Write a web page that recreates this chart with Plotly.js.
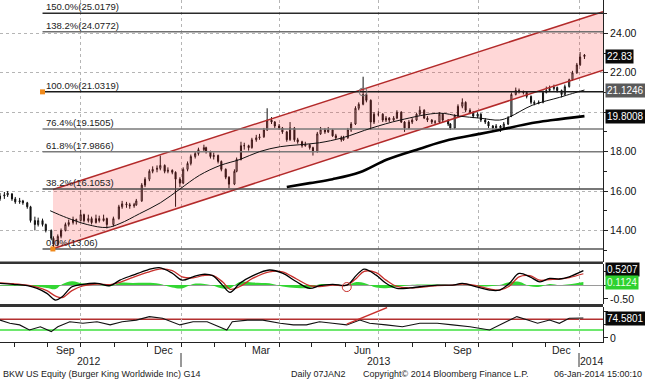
<!DOCTYPE html>
<html>
<head>
<meta charset="utf-8">
<script src="https://cdn.plot.ly/plotly-3.0.1.min.js"></script>
<style>html,body{margin:0;padding:0;background:#fff;}#chart{width:645px;height:380px;}</style>
</head>
<body>
<div id="chart"></div>
<script>
// ---------- price candles ----------
const priceDates = [
'2012-07-19','2012-07-23','2012-07-26','2012-07-30','2012-08-02','2012-08-06','2012-08-09','2012-08-13','2012-08-16','2012-08-20',
'2012-08-23','2012-08-27','2012-08-30','2012-09-04','2012-09-06','2012-09-10','2012-09-13','2012-09-17','2012-09-20','2012-09-24',
'2012-09-27','2012-10-01','2012-10-04','2012-10-08','2012-10-11','2012-10-15','2012-10-18','2012-10-22','2012-10-25','2012-10-31',
'2012-11-05','2012-11-08','2012-11-12','2012-11-15','2012-11-19','2012-11-21','2012-11-26','2012-11-29','2012-12-03','2012-12-06',
'2012-12-10','2012-12-13','2012-12-17','2012-12-20','2012-12-24','2012-12-27','2012-12-31','2013-01-03','2013-01-07','2013-01-10',
'2013-01-14','2013-01-17','2013-01-22','2013-01-24','2013-01-28','2013-01-31','2013-02-04','2013-02-07','2013-02-11','2013-02-14',
'2013-02-19','2013-02-21','2013-02-25','2013-02-28','2013-03-04','2013-03-07','2013-03-11','2013-03-14','2013-03-18','2013-03-21',
'2013-03-25','2013-03-28','2013-04-01','2013-04-04','2013-04-08','2013-04-11','2013-04-15','2013-04-18','2013-04-22','2013-04-25',
'2013-04-29','2013-05-02','2013-05-06','2013-05-09','2013-05-13','2013-05-16','2013-05-20','2013-05-23','2013-05-28','2013-05-30',
'2013-06-03','2013-06-06','2013-06-10','2013-06-13','2013-06-17','2013-06-20','2013-06-24','2013-06-27','2013-07-01','2013-07-05',
'2013-07-08','2013-07-11','2013-07-15','2013-07-18','2013-07-22','2013-07-25','2013-07-29','2013-08-01','2013-08-05','2013-08-08',
'2013-08-12','2013-08-15','2013-08-19','2013-08-22','2013-08-26','2013-08-29','2013-09-03','2013-09-05','2013-09-09','2013-09-12',
'2013-09-16','2013-09-19','2013-09-23','2013-09-26','2013-09-30','2013-10-03','2013-10-07','2013-10-10','2013-10-14','2013-10-17',
'2013-10-21','2013-10-24','2013-10-28','2013-10-31','2013-11-04','2013-11-07','2013-11-11','2013-11-14','2013-11-18','2013-11-21',
'2013-11-25','2013-11-29','2013-12-02','2013-12-05','2013-12-09','2013-12-12','2013-12-16','2013-12-19','2013-12-23','2013-12-26',
'2013-12-30','2014-01-02','2014-01-06'];
const priceOpen = [
15.6,15.75,15.8,15.85,15.6,15.45,15.5,15.4,15.2,14.5,
14.3,14.5,14.3,14.0,13.6,13.3,13.7,14.0,14.3,14.4,
14.55,14.5,14.8,14.5,14.6,14.4,14.6,14.5,14.6,14.3,
14.6,15.2,15.35,15.3,15.25,15.3,15.5,16.3,16.6,17.0,
17.1,17.15,17.3,17.0,17.05,16.95,16.6,16.4,17.1,17.4,
17.75,17.9,18.1,18.2,18.0,17.75,17.8,17.5,17.1,16.7,
16.35,17.0,17.6,18.3,18.3,18.2,18.6,18.7,18.75,19.1,
19.6,19.5,19.3,19.2,19.0,18.6,19.2,18.6,18.5,18.3,
18.35,18.2,18.0,18.9,19.1,19.0,19.1,18.8,18.7,18.6,
18.7,19.1,19.4,20.2,20.4,20.9,20.6,19.5,19.9,19.9,
19.6,19.7,19.6,19.7,20.0,19.5,19.2,19.5,19.6,19.9,
20.1,19.7,19.6,19.5,19.5,19.9,19.6,19.4,19.2,19.8,
20.3,20.5,20.1,20.0,19.8,19.9,19.6,19.5,19.3,19.2,
19.3,19.2,19.4,19.8,20.9,21.1,21.05,21.0,20.8,20.5,
20.45,20.5,21.0,21.1,21.2,21.25,21.1,20.9,21.3,21.65,
22.0,22.4,22.9];
const priceHigh = [
15.9,15.95,16.0,15.9,15.7,15.65,15.55,15.45,15.25,14.7,
14.65,14.6,14.35,14.05,13.7,13.8,14.1,14.4,14.55,14.7,
14.6,15.05,14.85,14.8,14.7,14.8,14.75,14.8,14.65,14.7,
15.3,15.5,15.45,15.4,15.4,15.6,16.4,16.7,17.1,17.25,
17.3,17.8,17.35,17.2,17.1,17.0,16.7,17.2,17.5,17.85,
18.0,18.2,18.35,18.25,18.05,17.95,17.85,17.55,17.15,16.75,
17.1,17.7,18.5,18.45,18.35,18.7,18.85,18.9,19.2,20.2,
19.75,19.55,19.4,19.25,19.05,19.5,19.25,18.7,18.55,18.5,
18.4,18.25,19.0,19.25,19.2,19.25,19.15,18.9,18.8,18.8,
19.2,19.5,20.3,20.5,21.8,21.0,20.65,20.0,20.05,19.95,
19.8,19.75,19.8,20.1,20.05,19.55,19.6,19.7,19.95,20.3,
20.15,19.8,19.65,19.6,20.0,19.95,19.65,19.45,19.9,20.4,
20.7,20.55,20.2,20.05,20.0,19.95,19.7,19.55,19.35,19.4,
19.35,19.5,19.8,21.0,21.25,21.2,21.1,21.05,20.85,20.6,
20.6,21.1,21.3,21.35,21.4,21.3,21.15,21.4,21.7,22.1,
22.5,23.05,22.95];
const priceLow = [
15.5,15.6,15.7,15.5,15.35,15.35,15.3,15.1,14.4,14.0,
14.2,14.2,13.9,13.5,13.06,13.2,13.6,13.95,14.2,14.3,
14.3,14.45,14.4,14.4,14.3,14.35,14.4,14.45,14.1,14.2,
14.55,15.1,15.15,15.1,15.15,15.25,15.45,16.2,16.5,16.9,
16.95,17.05,16.9,16.9,16.85,15.2,16.2,16.35,17.0,17.3,
17.65,17.8,18.0,17.9,17.65,17.6,17.4,17.0,16.6,16.15,
16.3,16.95,17.55,18.1,18.05,18.15,18.5,18.6,18.7,19.05,
19.4,19.2,19.1,18.9,18.5,18.55,18.5,18.4,18.2,18.25,
18.1,17.8,17.95,18.85,18.9,18.95,18.75,18.6,18.5,18.55,
18.65,19.0,19.35,20.1,20.35,20.5,19.1,19.4,19.8,19.5,
19.5,19.5,19.55,19.65,19.45,19.0,19.15,19.4,19.55,19.85,
19.65,19.5,19.4,19.4,19.45,19.5,19.3,19.1,19.15,19.75,
20.2,20.0,19.9,19.7,19.7,19.5,19.4,19.2,19.1,19.1,
19.0,19.15,19.35,19.75,20.85,20.95,20.9,20.7,20.4,20.35,
20.4,20.45,20.95,21.05,21.1,21.0,20.75,20.85,21.25,21.6,
21.95,22.35,22.7];
const priceClose = [
15.75,15.8,15.9,15.6,15.45,15.5,15.4,15.2,14.5,14.3,
14.5,14.3,14.0,13.6,13.3,13.7,14.0,14.3,14.4,14.55,
14.5,14.8,14.5,14.6,14.4,14.6,14.5,14.6,14.3,14.6,
15.2,15.35,15.3,15.25,15.3,15.5,16.3,16.6,17.0,17.1,
17.15,17.3,17.0,17.05,16.95,16.6,16.4,17.1,17.4,17.75,
17.9,18.1,18.2,18.0,17.75,17.8,17.5,17.1,16.7,16.35,
17.0,17.6,18.3,18.3,18.2,18.6,18.7,18.75,19.1,19.6,
19.5,19.3,19.2,19.0,18.6,19.2,18.6,18.5,18.3,18.35,
18.2,18.0,18.9,19.1,19.0,19.1,18.8,18.7,18.6,18.7,
19.1,19.4,20.2,20.4,20.9,20.6,19.5,19.9,19.9,19.6,
19.7,19.6,19.7,20.0,19.5,19.2,19.5,19.6,19.9,20.1,
19.7,19.6,19.5,19.5,19.9,19.6,19.4,19.2,19.8,20.3,
20.5,20.1,20.0,19.8,19.9,19.6,19.5,19.3,19.2,19.3,
19.2,19.4,19.7,20.9,21.1,21.05,21.0,20.8,20.5,20.45,
20.5,21.0,21.1,21.2,21.25,21.1,20.9,21.3,21.65,22.0,
22.4,22.8,22.83];

// ---------- moving averages ----------
const ma50Dates = ['2012-09-03','2012-09-18','2012-10-07','2012-10-25','2012-11-06','2012-11-24','2012-12-13','2012-12-31','2013-01-18','2013-02-06','2013-02-24','2013-03-14','2013-04-02','2013-04-20','2013-05-08','2013-05-29','2013-06-25','2013-07-21','2013-08-26','2013-09-13','2013-10-02','2013-10-20','2013-10-29','2013-11-19','2013-12-14','2013-12-26','2014-01-06'];
const ma50Values = [15.0,14.65,14.3,14.15,14.35,14.85,15.4,16.1,16.8,17.3,17.6,18.0,18.25,18.35,18.45,18.7,19.2,19.6,19.95,19.8,19.7,19.6,19.75,20.35,20.75,20.95,21.1246];
const ma200Dates = ['2013-04-08','2013-04-29','2013-05-20','2013-06-14','2013-07-09','2013-08-08','2013-09-04','2013-10-02','2013-10-20','2013-11-19','2013-12-08','2014-01-06'];
const ma200Values = [16.2,16.4,16.6,16.95,17.6,18.15,18.6,18.9,19.1,19.45,19.6,19.8008];

// ---------- trend channel ----------
const channelDates = ['2012-09-05 14:00','2014-01-23'];
const channelUpper = [16.08, 25.10];
const channelLower = [13.07, 22.13];

// ---------- Fibonacci levels ----------
const fibPct = ['150.0%','138.2%','100.0%','76.4%','61.8%','38.2%','0.0%'];
const fibText = ['25.0179','24.0772','21.0319','19.1505','17.9866','16.1053','13.06'];
const fibLevels = [25.0179,24.0772,21.0319,19.1505,17.9866,16.1053,13.06];
const fibColors = ['#2a2a2a','#707070','#1a1a1a','#7a7a7a','#7a7a7a','#4a4a4a','#555555'];
const fibDates = ['2012-08-27','2014-01-23'];
const fibAnchorDates = ['2012-08-27','2012-09-05 12:00'];
const fibAnchorValues = [21.0319, 13.06];

// ---------- MACD ----------
const macdDates = ['2012-07-19','2012-07-31','2012-08-13','2012-08-22','2012-08-31','2012-09-08','2012-09-14','2012-09-23','2012-10-03','2012-10-16','2012-10-28','2012-11-06','2012-11-18','2012-12-01','2012-12-12','2012-12-24','2013-01-02','2013-01-12','2013-01-21','2013-01-30','2013-02-08','2013-02-15','2013-02-24','2013-03-08','2013-03-23','2013-04-04','2013-04-17','2013-04-29','2013-05-08','2013-05-20','2013-06-02','2013-06-11','2013-06-18','2013-06-29','2013-07-08','2013-07-18','2013-07-30','2013-08-08','2013-08-24','2013-09-07','2013-09-16','2013-09-29','2013-10-11','2013-10-20','2013-10-29','2013-11-07','2013-11-17','2013-11-26','2013-12-05','2013-12-14','2013-12-23','2014-01-05'];
const macdLine = [0.065,0.03,-0.02,-0.12,-0.30,-0.54,-0.42,-0.06,0.03,0.065,-0.02,0.18,0.36,0.545,0.63,0.43,0.18,0.30,0.39,0.34,0.0,-0.26,0.065,0.34,0.545,0.43,0.12,-0.12,-0.02,0.03,0.0,0.36,0.58,0.36,0.065,-0.12,-0.10,-0.06,0.0,0.0,0.06,-0.06,-0.18,-0.18,0.06,0.42,0.30,0.12,0.24,0.22,0.30,0.5207];
const macdSignal = [0.08,0.05,0.0,-0.07,-0.20,-0.40,-0.45,-0.20,-0.03,0.04,0.02,0.10,0.28,0.46,0.58,0.52,0.30,0.26,0.34,0.35,0.12,-0.15,-0.05,0.25,0.48,0.48,0.22,-0.02,-0.05,0.0,0.0,0.25,0.50,0.45,0.18,-0.05,-0.10,-0.08,-0.02,0.0,0.04,-0.02,-0.14,-0.18,-0.04,0.30,0.34,0.18,0.20,0.22,0.27,0.41];
const macdHist = [-0.015,-0.02,-0.02,-0.05,-0.10,-0.14,0.03,0.14,0.06,0.025,-0.04,0.08,0.08,0.085,0.05,-0.09,-0.12,0.04,0.05,-0.01,-0.12,-0.11,0.115,0.09,0.065,-0.05,-0.10,-0.10,0.03,0.03,0.0,0.11,0.08,-0.09,-0.115,-0.07,0.0,0.02,0.02,0.0,0.02,-0.04,-0.04,0.0,0.10,0.12,-0.04,-0.06,0.04,0.0,0.03,0.1124];

// ---------- RSI ----------
const rsiDates = ['2012-07-19','2012-07-28','2012-08-06','2012-08-15','2012-08-25','2012-09-04','2012-09-10','2012-09-21','2012-10-03','2012-10-16','2012-10-28','2012-11-08','2012-11-21','2012-12-03','2012-12-15','2012-12-31','2013-01-12','2013-01-25','2013-02-12','2013-02-17','2013-03-03','2013-03-17','2013-04-02','2013-04-14','2013-04-26','2013-05-08','2013-05-20','2013-06-02','2013-06-14','2013-06-23','2013-07-08','2013-07-23','2013-08-08','2013-08-24','2013-09-07','2013-09-23','2013-10-11','2013-10-27','2013-11-05','2013-11-15','2013-11-24','2013-12-05','2013-12-14','2013-12-23','2014-01-05'];
const rsiValues = [67,55,49,30,42,24,42,61,55,61,49,61,67,80,74,49,61,61,30,61,67,67,55,49,49,61,55,49,67,55,49,42,55,55,49,42,30,61,80,67,55,67,55,74,74.5801];
const rsiBands = [70, 30];
const rsiTrendDates = ['2013-06-02','2013-07-09'];
const rsiTrendValues = [52, 114];

// ---------- axis labels / texts ----------
const monthLabels = ['Sep','Dec','Mar','Jun','Sep','Dec'];
const monthLabelDates = ['2012-09-17','2012-12-16','2013-03-16','2013-06-16','2013-09-16','2013-12-16'];
const yearLabels = ['2012','2013','2014'];
const yearLabelDates = ['2012-10-09','2013-07-02','2014-01-13'];
const yearBreaks = ['2013-01-01','2014-01-01'];
const gridDates = ['2012-10-01','2013-01-01','2013-04-01','2013-07-01','2013-10-01','2014-01-01'];
const priceTicks = [14,16,18,20,22,24];
const priceTickText = ['14.00','16.00','18.00','','22.00','24.00'];
const footerTexts = ['BKW US Equity (Burger King Worldwide Inc) G14','Daily 07JAN2','Copyright\u00a9 2014 Bloomberg Finance L.P.','06-Jan-2014 15:00:10'];
const footerPx = [2, 290, 362, 643];
const footerAnchor = ['left','left','left','right'];

// ---------- build ----------
const FONT = 'Liberation Sans, Arial, sans-serif';
const H = 380, PW = 603;
const py = p => 1 - p / H;

const traces = [];
traces.push({type:'scatter', mode:'lines', x:channelDates, y:channelLower, xaxis:'x', yaxis:'y',
  line:{color:'#b32a2a', width:1.5}, hoverinfo:'skip'});
traces.push({type:'scatter', mode:'lines', x:channelDates, y:channelUpper, xaxis:'x', yaxis:'y',
  fill:'tonexty', fillcolor:'rgba(255,40,40,0.19)', line:{color:'#b32a2a', width:1.5}, hoverinfo:'skip'});
fibLevels.forEach((v,i) => traces.push({type:'scatter', mode:'lines', x:fibDates, y:[v,v], xaxis:'x', yaxis:'y',
  line:{color:fibColors[i], width:1.5}, hoverinfo:'skip'}));
traces.push({type:'scatter', mode:'lines', x:ma200Dates, y:ma200Values, line:{color:'#000', width:2.6, shape:'spline'}, hoverinfo:'skip'});
traces.push({type:'scatter', mode:'lines', x:ma50Dates, y:ma50Values, line:{color:'#111', width:1, shape:'spline'}, hoverinfo:'skip'});
traces.push({type:'candlestick', x:priceDates, open:priceOpen, high:priceHigh, low:priceLow, close:priceClose,
  xaxis:'x', yaxis:'y', whiskerwidth:0,
  increasing:{line:{color:'#111', width:1}, fillcolor:'#ffffff'},
  decreasing:{line:{color:'#111', width:1}, fillcolor:'#111111'}, hoverinfo:'skip'});
traces.push({type:'scatter', mode:'markers', x:fibAnchorDates, y:fibAnchorValues,
  marker:{symbol:'square', size:5, color:'#f08a1c', line:{width:0}}, hoverinfo:'skip'});
traces.push({type:'scatter', mode:'markers', x:['2013-06-17'], y:[21.03],
  marker:{symbol:'circle-open', size:8, color:'#777', line:{width:1}}, hoverinfo:'skip'});
// MACD
traces.push({type:'scatter', mode:'lines', x:macdDates, y:macdHist, xaxis:'x', yaxis:'y2', fill:'tozeroy',
  fillcolor:'#33d633', line:{width:0, color:'#33d633', shape:'spline'}, hoverinfo:'skip'});
traces.push({type:'scatter', mode:'lines', x:macdDates, y:macdSignal, xaxis:'x', yaxis:'y2',
  line:{color:'#c8302c', width:1.3, shape:'spline'}, hoverinfo:'skip'});
traces.push({type:'scatter', mode:'lines', x:macdDates, y:macdLine, xaxis:'x', yaxis:'y2',
  line:{color:'#000', width:1.3, shape:'spline'}, hoverinfo:'skip'});
traces.push({type:'scatter', mode:'markers', x:['2013-06-02'], y:[-0.07], xaxis:'x', yaxis:'y2',
  marker:{symbol:'circle-open', size:9, color:'#c8302c', line:{width:1}}, hoverinfo:'skip'});
// RSI
traces.push({type:'scatter', mode:'lines', x:rsiDates, y:rsiValues, xaxis:'x', yaxis:'y3',
  line:{color:'#111', width:1.1}, hoverinfo:'skip'});
traces.push({type:'scatter', mode:'lines', x:rsiTrendDates, y:rsiTrendValues, xaxis:'x', yaxis:'y3',
  line:{color:'#c8302c', width:1.4}, hoverinfo:'skip'});

const shapes = [];
shapes.push({type:'line', xref:'paper', x0:0, x1:1, yref:'y3', y0:rsiBands[0], y1:rsiBands[0], line:{color:'#b33030', width:1.5}, layer:'below'});
shapes.push({type:'line', xref:'paper', x0:0, x1:1, yref:'y3', y0:rsiBands[1], y1:rsiBands[1], line:{color:'#3ee03e', width:1.5}, layer:'below'});
shapes.push({type:'rect', xref:'paper', x0:0, x1:1, yref:'paper', y0:py(264), y1:py(261.5), fillcolor:'#333', line:{width:0}});
shapes.push({type:'rect', xref:'paper', x0:0, x1:1, yref:'paper', y0:py(307), y1:py(304), fillcolor:'#333', line:{width:0}});
yearBreaks.forEach(d => shapes.push({type:'line', xref:'x', x0:d, x1:d, yref:'paper', y0:py(367), y1:py(353), line:{color:'#333', width:1}}));

const ann = [];
fibLevels.forEach((v,i) => ann.push({xref:'x', yref:'y', x:'2012-08-29', y:v, text:fibPct[i]+'('+fibText[i]+')',
  showarrow:false, xanchor:'left', yanchor:'bottom', borderpad:0, yshift:0, font:{family:FONT, size:9.5, color:'#222'}}));
function box(yref, y, text, bg, fc, ys){
  return {xref:'paper', x:1, xanchor:'left', xshift:2, yshift:ys||0, yref:yref, y:y, yanchor:'middle', text:text, showarrow:false,
    bgcolor:bg, borderpad:1, font:{family:FONT, size:10, color:fc||'#fff'}};
}
ann.push(box('y', 22.83, '22.83', '#0a0a0a'));
ann.push(box('y', 21.1246, '21.1246', '#5a5a5a'));
ann.push(box('y', 19.8008, '19.8008', '#0a0a0a'));
ann.push(box('y2', 0.5207, '0.5207', '#0a0a0a', '#fff', 1));
ann.push(box('y2', 0.1124, '0.1124', '#2fd12f', '#eaffea', -1));
ann.push(box('y3', 74.5801, '74.5801', '#0a0a0a'));
monthLabels.forEach((m,i) => ann.push({xref:'x', yref:'paper', x:monthLabelDates[i], y:py(350), text:m, showarrow:false,
  xanchor:'center', yanchor:'middle', borderpad:0, font:{family:FONT, size:10.5, color:'#222'}}));
yearLabels.forEach((m,i) => ann.push({xref:'x', yref:'paper', x:yearLabelDates[i], y:py(361), text:m, showarrow:false,
  xanchor:'center', yanchor:'middle', borderpad:0, font:{family:FONT, size:10.5, color:'#222'}}));
footerTexts.forEach((t,i) => ann.push({xref:'paper', yref:'paper', x:footerPx[i]/PW, y:py(373.5), text:t, showarrow:false,
  xanchor:footerAnchor[i], yanchor:'middle', borderpad:0, font:{family:FONT, size:9, color:'#222'}}));

const gridStyle = {showgrid:true, gridcolor:'#b5b5b5', griddash:'dot', gridwidth:1};
const layout = {
  width:645, height:380, margin:{l:0, r:42, t:0, b:0},
  paper_bgcolor:'#fff', plot_bgcolor:'#fff', showlegend:false,
  font:{family:FONT, size:10, color:'#222'},
  xaxis:Object.assign({type:'date', range:['2012-07-19','2014-01-23'], anchor:'y3', domain:[0,1],
    tickmode:'array', tickvals:gridDates, showticklabels:false, ticks:'outside', ticklen:4, tickcolor:'#222',
    minor:{tickmode:'linear', tick0:'2012-08-01', dtick:'M1', ticks:'outside', ticklen:4, tickcolor:'#222', showgrid:false},
    showline:true, linecolor:'#222', linewidth:1, zeroline:false, rangeslider:{visible:false}, fixedrange:true}, gridStyle),
  yaxis:Object.assign({domain:[py(261.5), 1], range:[12.424, 25.693], side:'right', anchor:'x',
    tickmode:'array', tickvals:priceTicks, ticktext:priceTickText, ticks:'outside', ticklen:4, tickcolor:'#222',
    minor:{tickmode:'linear', tick0:13, dtick:1, ticks:'outside', ticklen:3, tickcolor:'#222', showgrid:false},
    showline:true, linecolor:'#222', linewidth:1, zeroline:false, tickfont:{family:FONT, size:10.5, color:'#111'}}, gridStyle),
  yaxis2:{domain:[py(304), py(264)], range:[-0.682, 0.762], side:'right', anchor:'x',
    tickmode:'array', tickvals:[-0.5,0,0.5], ticktext:['-0.50','',''], ticks:'outside', ticklen:4, tickcolor:'#222',
    showline:true, linecolor:'#222', linewidth:1, showgrid:false, zeroline:true, zerolinecolor:'#9a9a9a', zerolinewidth:1,
    tickfont:{family:FONT, size:10.5, color:'#111'}},
  yaxis3:{domain:[py(342), py(307)], range:[-15, 116], side:'right', anchor:'x',
    tickmode:'array', tickvals:[0,50,100], ticktext:['0','',''], ticks:'outside', ticklen:4, tickcolor:'#222',
    showline:true, linecolor:'#222', linewidth:1, showgrid:false, zeroline:false,
    tickfont:{family:FONT, size:10.5, color:'#111'}},
  shapes:shapes, annotations:ann
};
Plotly.newPlot('chart', traces, layout, {displayModeBar:false, staticPlot:true});
</script>
</body>
</html>
